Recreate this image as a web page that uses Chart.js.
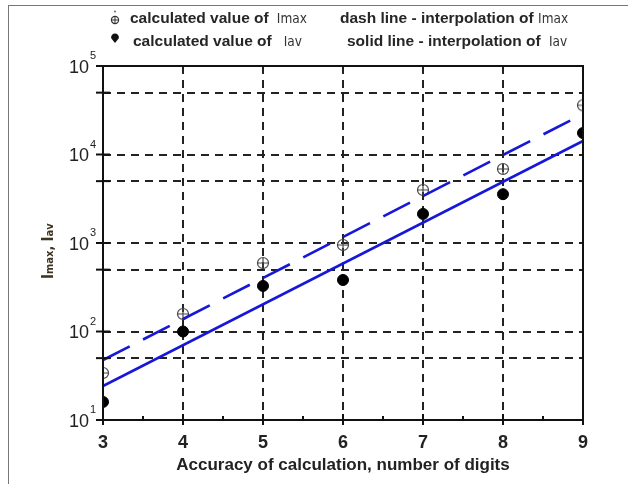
<!DOCTYPE html>
<html>
<head>
<meta charset="utf-8">
<script src="https://cdn.jsdelivr.net/npm/chart.js@4"></script>
<style>
  html, body { margin: 0; padding: 0; background: #fff; }
  #wrap { position: relative; width: 628px; height: 484px; overflow: hidden; }
  #frameL { position: absolute; left: 8px; top: 5px; width: 1px; height: 480px; background: #777; }
  #frameT { position: absolute; left: 8px; top: 5px; width: 620px; height: 1px; background: #777; }
  .leg { position: absolute; font-family: "Liberation Sans", Arial, sans-serif; font-weight: bold; font-size: 15.5px; color: #262626; white-space: nowrap; line-height: 18px; }
  .nar { font-family: "DejaVu Sans Condensed", "Liberation Sans Narrow", sans-serif; font-weight: normal; font-size: 13.5px; color: #333; }
  svg { position: absolute; }
</style>
</head>
<body>
<div id="wrap">
  <canvas id="myChart" width="628" height="484"></canvas>
  <div id="frameL"></div>
  <div id="frameT"></div>
  <svg style="left:108px; top:9px;" width="14" height="18">
    <circle cx="7" cy="2.5" r="0.9" fill="#555"/>
    <circle cx="7" cy="11" r="3.6" fill="none" stroke="#333" stroke-width="1.2"/>
    <path d="M3.4 11 H10.6 M7 7.4 V14.6" stroke="#333" stroke-width="1"/>
  </svg>
  <svg style="left:108px; top:31px;" width="14" height="14">
    <path d="M7 12 L3.2 7.2 A3.9 3.9 0 1 1 10.8 7.2 Z" fill="#111"/>
  </svg>
  <div class="leg" style="left:130px; top:9px;">calculated value of <span class="nar">&nbsp;Imax</span></div>
  <div class="leg" style="left:133px; top:32px;">calculated value of <span class="nar">&nbsp;&nbsp;Iav</span></div>
  <div class="leg" style="left:340px; top:9px;">dash line - interpolation of <span class="nar">Imax</span></div>
  <div class="leg" style="left:347px; top:32px;">solid line - interpolation of <span class="nar">&nbsp;Iav</span></div>
</div>
<script>
// values
const digits = [3, 4, 5, 6, 7, 8, 9];
const iMax = [34, 158, 594, 950, 3980, 6860, 36000];
const iAv = [16, 100, 327, 382, 2130, 3560, 17500];
const fitX = [3, 9];
const fitMax = [47.6, 28700];
const fitAv = [24.2, 14200];
const yTicks = [10, 50, 100, 500, 1000, 5000, 10000, 50000, 100000];
const xTicks = [3, 4, 5, 6, 7, 8, 9];

function pts(xs, ys) {
    return xs.map((x, i) => ({ x: x, y: ys[i] }));
}

// circle with a plus inside
const plusCircle = document.createElement('canvas');
plusCircle.width = 14;
plusCircle.height = 14;
(function() {
    const c = plusCircle.getContext('2d');
    c.strokeStyle = '#444';
    c.lineWidth = 1.2;
    c.beginPath();
    c.arc(7, 7, 5.5, 0, Math.PI * 2);
    c.moveTo(1.5, 7); c.lineTo(12.5, 7);
    c.moveTo(7, 1.5); c.lineTo(7, 12.5);
    c.stroke();
})();

const axesExtras = {
    id: 'axesExtras',
    afterDraw(chart) {
        const ctx = chart.ctx;
        const a = chart.chartArea;
        const xs = chart.scales.x, ys = chart.scales.y;
        ctx.save();
        ctx.strokeStyle = '#111';
        ctx.lineWidth = 2;
        ctx.strokeRect(a.left, a.top, a.right - a.left, a.bottom - a.top);

        // y ticks crossing the axis + labels
        yTicks.forEach(v => {
            const y = ys.getPixelForValue(v);
            ctx.beginPath();
            ctx.moveTo(a.left - 7, y);
            ctx.lineTo(a.left + 7, y);
            ctx.stroke();
            const e = Math.log10(v);
            if (Math.abs(e - Math.round(e)) < 1e-9) {
                ctx.fillStyle = '#222';
                ctx.textAlign = 'right';
                ctx.textBaseline = 'middle';
                ctx.font = '18px "Liberation Sans", Arial, sans-serif';
                ctx.fillText('10', a.left - 14, y + 2);
                ctx.textAlign = 'left';
                ctx.font = '11px "Liberation Sans", Arial, sans-serif';
                ctx.fillText(String(Math.round(e)), a.left - 13, y - 10);
            }
        });

        // x ticks: majors cross the axis, minors at halves
        xTicks.forEach(v => {
            const x = xs.getPixelForValue(v);
            ctx.beginPath();
            ctx.moveTo(x, a.bottom - 6);
            ctx.lineTo(x, a.bottom + 5);
            ctx.stroke();
            if (v < 9) {
                const xm = xs.getPixelForValue(v + 0.5);
                ctx.beginPath();
                ctx.moveTo(xm, a.bottom - 4);
                ctx.lineTo(xm, a.bottom);
                ctx.stroke();
            }
        });

        // y axis title
        ctx.translate(48, 252);
        ctx.rotate(-Math.PI / 2);
        ctx.fillStyle = '#3d3320';
        ctx.textBaseline = 'alphabetic';
        ctx.textAlign = 'left';
        let x0 = -27;
        const parts = [['I', 15], ['max', 11], [', ', 14], ['I', 15], ['av', 11]];
        parts.forEach(p => {
            ctx.font = 'bold ' + p[1] + 'px "DejaVu Sans Condensed", "Liberation Sans", sans-serif';
            ctx.fillText(p[0], x0, 5);
            x0 += ctx.measureText(p[0]).width;
        });
        ctx.restore();
    }
};

document.addEventListener("DOMContentLoaded", function() {
    const ctx = document.getElementById('myChart').getContext('2d');
    const myChart = new Chart(ctx, {
        type: 'scatter',
        data: {
            datasets: [{
                label: 'interpolation of Imax',
                data: pts(fitX, fitMax),
                showLine: true,
                borderColor: '#1717d8',
                borderWidth: 2.6,
                borderDash: [30, 15],
                pointRadius: 0,
                clip: 0
            }, {
                label: 'interpolation of Iav',
                data: pts(fitX, fitAv),
                showLine: true,
                borderColor: '#1717d8',
                borderWidth: 2.6,
                pointRadius: 0,
                clip: 0
            }, {
                label: 'calculated value of Imax',
                data: pts(digits, iMax),
                pointStyle: plusCircle,
                clip: 0
            }, {
                label: 'calculated value of Iav',
                data: pts(digits, iAv),
                pointStyle: 'circle',
                pointRadius: 5.5,
                backgroundColor: '#000',
                borderColor: '#000',
                clip: 0
            }]
        },
        options: {
            responsive: false,
            animation: false,
            layout: { padding: { left: 0, right: 45, top: 66, bottom: 8 } },
            plugins: {
                legend: { display: false },
                tooltip: { enabled: false }
            },
            scales: {
                x: {
                    type: 'linear',
                    min: 3,
                    max: 9,
                    afterBuildTicks: s => { s.ticks = xTicks.map(v => ({ value: v })); },
                    afterFit: s => { s.height = 56; },
                    grid: { color: '#222', lineWidth: 2, drawTicks: false },
                    border: { display: false, dash: [8, 6] },
                    ticks: {
                        padding: 12,
                        color: '#222',
                        font: { family: '"Liberation Sans", Arial, sans-serif', size: 18, weight: 'bold' }
                    },
                    title: {
                        display: true,
                        text: 'Accuracy of calculation, number of digits',
                        color: '#222',
                        padding: 0,
                        font: { family: '"Liberation Sans", Arial, sans-serif', size: 17, weight: 'bold' }
                    }
                },
                y: {
                    type: 'logarithmic',
                    min: 10,
                    max: 100000,
                    afterBuildTicks: s => { s.ticks = yTicks.map(v => ({ value: v })); },
                    afterFit: s => { s.width = 103; },
                    grid: { color: '#222', lineWidth: 2, drawTicks: false },
                    border: { display: false, dash: [8, 6] },
                    ticks: { callback: () => '' }
                }
            }
        },
        plugins: [axesExtras]
    });
});
</script>
</body>
</html>
